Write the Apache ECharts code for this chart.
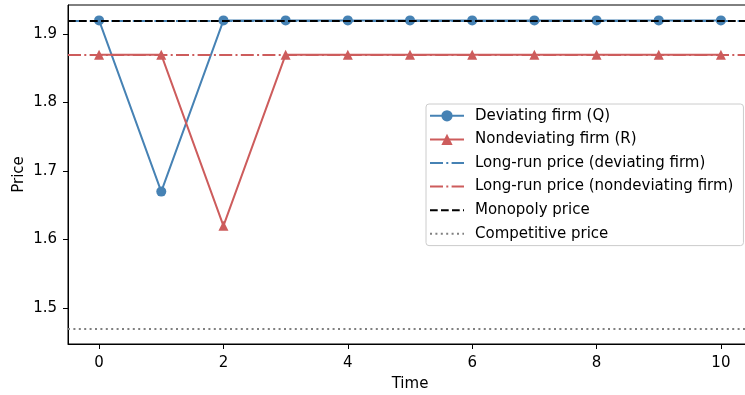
<!DOCTYPE html>
<html><head><meta charset="utf-8">
<script src="https://cdn.jsdelivr.net/npm/echarts@6/dist/echarts.min.js"></script>
<style>html,body{margin:0;padding:0;background:#fff;overflow:hidden;width:745px;height:395px}#c{width:760px;height:395px}</style>
</head><body><div id="c"></div>
<script>
const time = [0,1,2,3,4,5,6,7,8,9,10];
const qPrices = [1.92,1.67,1.92,1.92,1.92,1.92,1.92,1.92,1.92,1.92,1.92];
const rPrices = [1.87,1.87,1.62,1.87,1.87,1.87,1.87,1.87,1.87,1.87,1.87];
const longRunQ = 1.92;
const longRunR = 1.87;
const monopolyPrice = 1.92;
const competitivePrice = 1.47;
const xTicks = [0,2,4,6,8,10];
const yTicks = [1.5,1.6,1.7,1.8,1.9];

const BLUE = '#4682B4', RED = '#CD5C5C';
const FONT = 'DejaVu Sans';
const FS = 15;
const chart = echarts.init(document.getElementById('c'), null, {renderer:'canvas'});

function hline(name, value, color, dash, width){
  const ls = {color: color, width: width, type: dash};
  return {
    type: 'line', name: name, data: [], symbol: 'none', z: 4,
    itemStyle: {color: color}, lineStyle: ls,
    markLine: {symbol: 'none', silent: true, animation: false, label: {show: false}, z: 4,
      lineStyle: ls, emphasis: {disabled: true}, data: [{yAxis: value}]}
  };
}
const hidden = {color: 'transparent', borderColor: 'transparent', borderWidth: 0, opacity: 0};

chart.setOption({
  animation: false,
  textStyle: {fontFamily: FONT},
  grid: {left: 68, right: 8, top: 5, bottom: 51, outerBoundsMode: 'none', containLabel: false,
         show: true, borderColor: '#000', borderWidth: 1, backgroundColor: 'transparent'},
  xAxis: {
    type: 'value', min: -0.5, max: 10.5,
    name: 'Time', nameLocation: 'middle', nameGap: 33, nameMoveOverlap: false,
    nameTextStyle: {color: '#000', fontSize: FS, fontFamily: FONT},
    axisLine: {show: true, onZero: false, lineStyle: {color: '#000', width: 1}},
    axisTick: {show: true, length: 5, lineStyle: {color: '#000'}, customValues: xTicks},
    axisLabel: {color: '#000', fontSize: FS, fontFamily: FONT, margin: 12, customValues: xTicks},
    splitLine: {show: false}
  },
  yAxis: {
    type: 'value', min: 1.4475, max: 1.9425,
    name: 'Price', nameLocation: 'middle', nameGap: 41, nameMoveOverlap: false,
    nameTextStyle: {color: '#000', fontSize: FS, fontFamily: FONT},
    axisLine: {show: true, onZero: false, lineStyle: {color: '#000', width: 1}},
    axisTick: {show: true, length: 5, lineStyle: {color: '#000'}, customValues: yTicks},
    axisLabel: {color: '#000', fontSize: FS, fontFamily: FONT, margin: 11, customValues: yTicks,
      formatter: v => v.toFixed(1)},
    splitLine: {show: false}
  },
  legend: {
    orient: 'vertical', left: 426, top: 104,
    backgroundColor: '#fff', borderColor: '#ccc', borderWidth: 1, borderRadius: 3,
    padding: [4, 10, 4, 3], itemGap: 8, itemWidth: 34, itemHeight: 14,
    textStyle: {color: '#000', fontSize: FS, lineHeight: 15.6, fontFamily: FONT, padding: [0,0,0,6]},
    data: ['Deviating firm (Q)', 'Nondeviating firm (R)',
           {name: 'Long-run price (deviating firm)', itemStyle: hidden},
           {name: 'Long-run price (nondeviating firm)', itemStyle: hidden},
           {name: 'Monopoly price', itemStyle: hidden},
           {name: 'Competitive price', itemStyle: hidden}]
  },
  series: [
    {type: 'line', name: 'Deviating firm (Q)', data: time.map((t,i)=>[t, qPrices[i]]),
     symbol: 'circle', symbolSize: 10, itemStyle: {color: BLUE}, lineStyle: {color: BLUE, width: 2}, z: 2},
    {type: 'line', name: 'Nondeviating firm (R)', data: time.map((t,i)=>[t, rPrices[i]]),
     symbol: 'triangle', symbolSize: 10, itemStyle: {color: RED}, lineStyle: {color: RED, width: 2}, z: 2},
    hline('Long-run price (deviating firm)', longRunQ, BLUE, [13, 3.3, 2, 3.3], 2),
    hline('Long-run price (nondeviating firm)', longRunR, RED, [13, 3.3, 2, 3.3], 2),
    hline('Monopoly price', monopolyPrice, '#000', [7.7, 3.3], 2),
    hline('Competitive price', competitivePrice, '#808080', [2, 3.4], 2)
  ]
});
</script></body></html>
